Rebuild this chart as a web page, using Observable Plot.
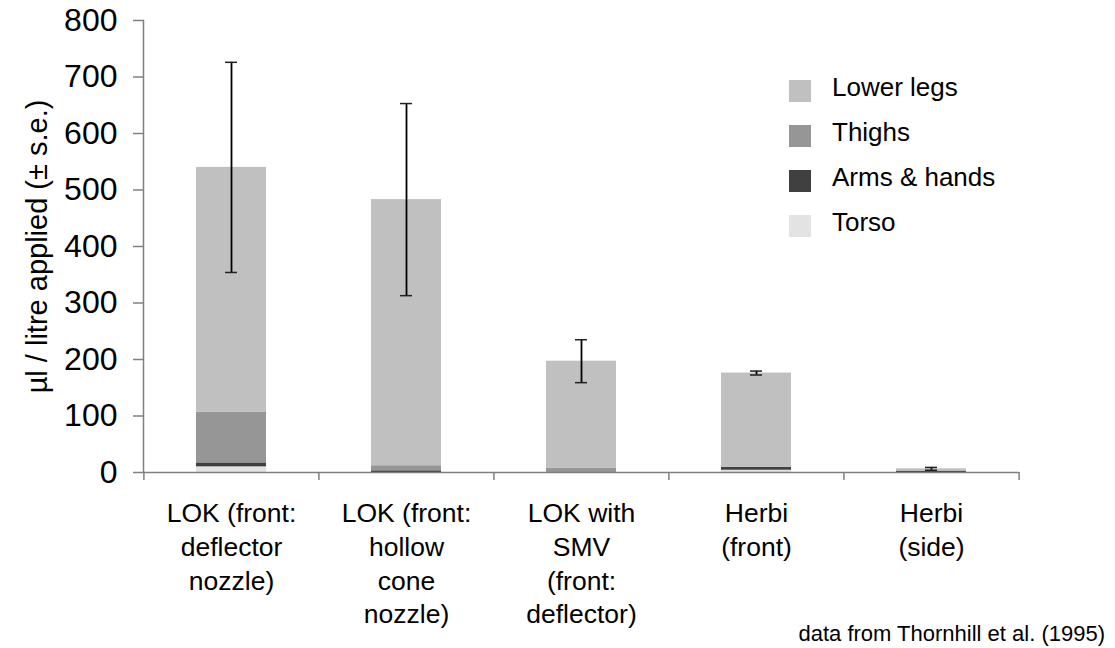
<!DOCTYPE html>
<html>
<head>
<meta charset="utf-8">
<script src="https://cdn.jsdelivr.net/npm/d3@7"></script>
<script src="https://cdn.jsdelivr.net/npm/@observablehq/plot@0.6"></script>
<style>
  html, body { margin: 0; padding: 0; background: #fff; }
  #wrap { position: relative; width: 1115px; height: 648px; overflow: hidden; font-family: "Liberation Sans", Arial, sans-serif; }
  #legend { position: absolute; left: 789px; top: 68px; }
  .li { display: flex; align-items: center; height: 45px; font-size: 26px; color: #000; }
  .li span { position: relative; top: -3px; }
  .sw { width: 22px; height: 22px; margin-right: 21px; }
  #caption { position: absolute; right: 10px; top: 621px; font-size: 22px; color: #000; }
</style>
</head>
<body>
<div id="wrap">
  <div id="chart"></div>
  <div id="legend"></div>
  <div id="caption">data from Thornhill et al. (1995)</div>
</div>
<script>
const categories = [
  "LOK (front:\ndeflector\nnozzle)",
  "LOK (front:\nhollow\ncone\nnozzle)",
  "LOK with\nSMV\n(front:\ndeflector)",
  "Herbi\n(front)",
  "Herbi\n(side)"
];
// stacked components, bottom to top
const torso      = [10, 0, 0, 4, 0];
const armsHands  = [7, 3, 1, 5, 2.5];
const thighs     = [90, 9, 7, 0, 0];
const lowerLegs  = [433, 471, 189, 167, 4];
const stdErr     = [186, 170, 38, 3.5, 2.5];
const yTicks = [0, 100, 200, 300, 400, 500, 600, 700, 800];

const seriesNames = ["Torso", "Arms & hands", "Thighs", "Lower legs"];
const seriesValues = [torso, armsHands, thighs, lowerLegs];
const seriesColors = ["#e3e3e3", "#404040", "#969696", "#c0c0c0"];

const rows = [];
seriesNames.forEach((s, si) => {
  categories.forEach((c, ci) => rows.push({cat: c, part: s, value: seriesValues[si][ci]}));
});
const totals = categories.map((c, i) => ({
  cat: c,
  total: torso[i] + armsHands[i] + thighs[i] + lowerLegs[i],
  se: stdErr[i]
}));

const marginLeft = 143, marginRight = 96;
const step = (1115 - marginLeft - marginRight) / categories.length;

const chart = Plot.plot({
  width: 1115,
  height: 648,
  marginLeft,
  marginRight,
  marginTop: 20,
  marginBottom: 176,
  style: {fontFamily: "Liberation Sans, Arial, sans-serif", background: "#fff", color: "#000"},
  x: {domain: categories, paddingInner: 0.6, paddingOuter: 0.3, label: null},
  y: {domain: [0, 800], label: null},
  color: {domain: seriesNames, range: seriesColors},
  marks: [
    Plot.barY(rows, {x: "cat", y: "value", fill: "part", order: seriesNames}),
    Plot.ruleX(totals, {x: "cat", y1: d => d.total - d.se, y2: d => d.total + d.se, stroke: "#000", strokeWidth: 1.8}),
    Plot.tickY(totals, {x: "cat", y: d => d.total + d.se, stroke: "#222", strokeWidth: 1.5, insetLeft: 29, insetRight: 29}),
    Plot.tickY(totals, {x: "cat", y: d => d.total - d.se, stroke: "#222", strokeWidth: 1.5, insetLeft: 29, insetRight: 29}),
    Plot.ruleY([0], {stroke: "#808080", strokeWidth: 1.5}),
    Plot.frame({anchor: "left", stroke: "#808080", strokeWidth: 1.5}),
    Plot.axisY({ticks: yTicks, tickSize: 10, tickPadding: 16, fontSize: 32, stroke: "#808080", strokeWidth: 1.5,
      label: null}),
    Plot.axisY({ticks: [], tickSize: 0, text: null, fontSize: 29,
      label: "µl / litre applied (± s.e.)", labelAnchor: "center", labelArrow: "none", labelOffset: 117}),
    Plot.axisX({tickSize: 0, tickPadding: 26, fontSize: 26.5, lineHeight: 1.27, lineAnchor: "top", label: null}),
    Plot.axisX({ticks: categories, tickSize: 8, text: null, dx: -step / 2, stroke: "#808080", strokeWidth: 1.5, label: null}),
    Plot.axisX({ticks: [categories[categories.length - 1]], tickSize: 8, text: null, dx: step / 2, stroke: "#808080", strokeWidth: 1.5, label: null})
  ]
});
document.getElementById("chart").appendChild(chart);

// legend (top to bottom as in reference)
const legendOrder = ["Lower legs", "Thighs", "Arms & hands", "Torso"];
const legend = d3.select("#legend");
legendOrder.forEach(name => {
  const row = legend.append("div").attr("class", "li");
  row.append("div").attr("class", "sw").style("background", seriesColors[seriesNames.indexOf(name)]);
  row.append("span").text(name);
});
</script>
</body>
</html>
